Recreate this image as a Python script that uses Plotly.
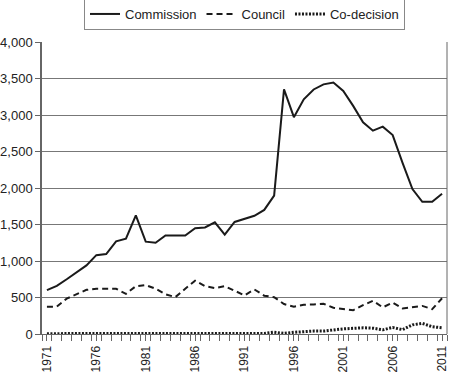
import plotly.graph_objects as go

years = list(range(1971, 2012))
commission = [600, 660, 750, 840, 940, 1080, 1095, 1270, 1305, 1625, 1265, 1250, 1350, 1350, 1350, 1450, 1460, 1530, 1360, 1535, 1575,
              1620, 1700, 1895, 3350, 2970, 3215, 3350, 3420, 3445, 3330, 3125, 2900, 2785, 2840, 2725, 2345, 1985, 1810, 1810, 1920]
council = [375, 375, 485, 540, 605, 620, 625, 620, 550, 655, 670, 620, 545, 505, 620, 730, 655, 630, 655, 595, 530,
           610, 525, 505, 410, 375, 400, 405, 415, 360, 345, 325, 395, 455, 365, 430, 350, 365, 385, 340, 490]
codecision = [5, 5, 5, 5, 5, 5, 5, 5, 5, 5, 5, 5, 5, 5, 5, 5, 5, 5, 5, 5, 5,
              5, 8, 25, 8, 23, 35, 40, 40, 60, 70, 78, 85, 80, 57, 90, 60, 125, 145, 100, 85]
tick_years = [1971, 1976, 1981, 1986, 1991, 1996, 2001, 2006, 2011]

font = "Liberation Sans, Arial, sans-serif"
fig = go.Figure()
fig.add_trace(go.Scatter(x=years, y=commission, name="Commission", mode="lines",
                         line=dict(color="#1a1a1a", width=2, dash="solid")))
fig.add_trace(go.Scatter(x=years, y=council, name="Council", mode="lines",
                         line=dict(color="#1a1a1a", width=2, dash="6px,4px")))
fig.add_trace(go.Scatter(x=years, y=codecision, name="Co-decision", mode="lines",
                         line=dict(color="#1a1a1a", width=3, dash="2px,1.5px")))

fig.update_layout(
    width=450, height=373,
    margin=dict(l=42, r=3, t=42, b=39, autoexpand=False),
    paper_bgcolor="white", plot_bgcolor="white",
    font=dict(family=font, size=12, color="#222"),
    legend=dict(orientation="h", x=0.5, xanchor="center", y=1 + 44 / 292, yanchor="top",
                bordercolor="#888", borderwidth=1, font=dict(size=13), itemwidth=30,
                tracegroupgap=0),
    showlegend=True,
)
fig.update_xaxes(range=[1970.5, 2011.5], tickmode="array", tickvals=tick_years,
                 ticktext=[str(y) for y in tick_years], tickangle=-90, automargin=False,
                 ticks="outside", ticklen=6, tickcolor="#666", tickfont=dict(size=12),
                 minor=dict(ticks="outside", ticklen=6, tick0=1970.5, dtick=1, tickcolor="#666", showgrid=False),
                 showline=True, linecolor="#666", linewidth=1, showgrid=False, zeroline=False,
                 mirror=False)
fig.update_yaxes(range=[0, 4000], dtick=500, tickformat=",", ticks="outside", ticklen=5,
                 automargin=False, tickfont=dict(size=13),
                 tickcolor="#666", showline=True, linecolor="#666", linewidth=1.5,
                 showgrid=True, gridcolor="#777", gridwidth=1, zeroline=False)
# right frame
fig.add_shape(type="line", xref="paper", yref="paper", x0=1, x1=1, y0=0, y1=1,
              line=dict(color="#666", width=1))
fig.write_html("out.html", config={"displayModeBar": False},
               post_script="document.body.style.margin='0';document.body.style.overflow='hidden';")
